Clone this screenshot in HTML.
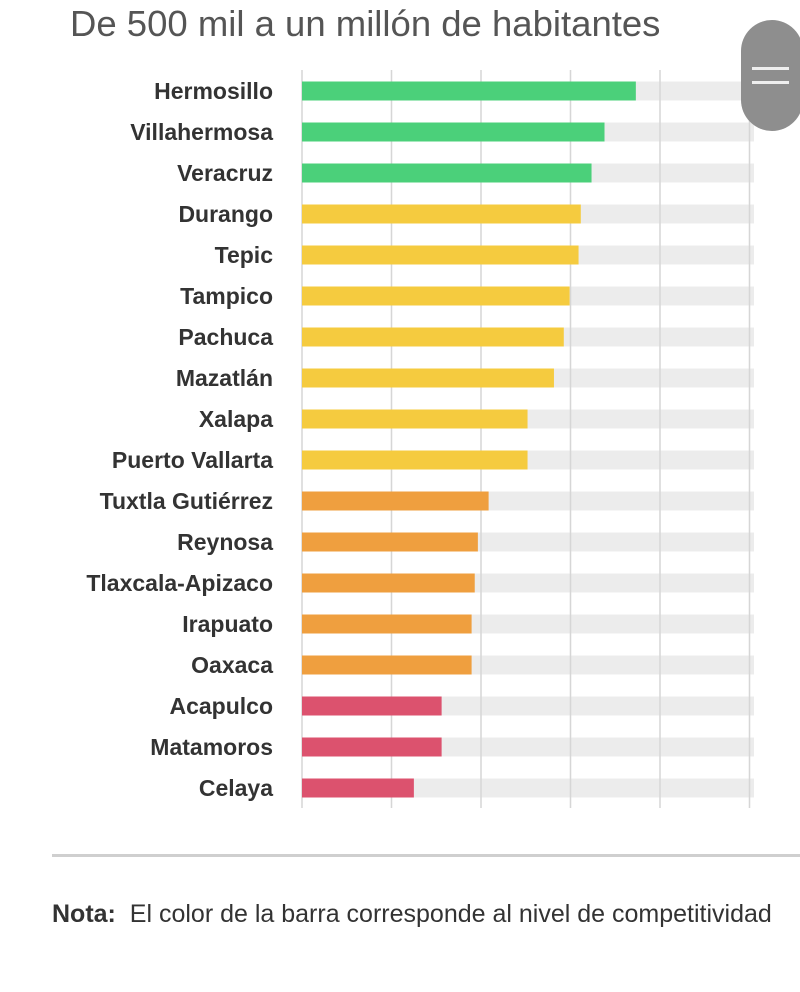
<!DOCTYPE html>
<html><head><meta charset="utf-8"><style>
body{margin:0;width:800px;height:992px;background:#fff;overflow:hidden;font-family:"Liberation Sans",sans-serif;position:relative}
#title{position:absolute;left:70px;top:3px;font-size:36.5px;color:#555;white-space:nowrap}
#note{position:absolute;left:52px;top:900px;font-size:25px;color:#333;white-space:nowrap}
#divider{position:absolute;left:52px;top:854px;width:748px;height:3px;background:#cfcfcf}
#menu{position:absolute;left:741px;top:20px;width:62px;height:111px;border-radius:31px;background:#8e8e8e}
#menu i{position:absolute;left:11px;width:37px;height:3px;background:#eee}
</style></head><body>
<div id="title">De 500 mil a un millón de habitantes</div>
<svg id="chart" width="800" height="850" style="position:absolute;left:0;top:0"></svg>
<div id="divider"></div>
<div id="note"><b>Nota:</b>&nbsp; El color de la barra corresponde al nivel de competitividad</div>
<div id="menu"><i style="top:47px"></i><i style="top:61px"></i></div>
<script>
const cities=["Hermosillo","Villahermosa","Veracruz","Durango","Tepic","Tampico","Pachuca","Mazatlán","Xalapa","Puerto Vallarta","Tuxtla Gutiérrez","Reynosa","Tlaxcala-Apizaco","Irapuato","Oaxaca","Acapulco","Matamoros","Celaya"];
const values=[74.6,67.6,64.7,62.3,61.8,59.8,58.5,56.3,50.4,50.4,41.7,39.3,38.6,37.9,37.9,31.2,31.2,25.0];
const levels=["alta","alta","alta","media-alta","media-alta","media-alta","media-alta","media-alta","media-alta","media-alta","media-baja","media-baja","media-baja","media-baja","media-baja","baja","baja","baja"];
const ticks=[0,20,40,60,80,100];
const colorOf={"alta":"#4bd07a","media-alta":"#f5cb3f","media-baja":"#ef9f3f","baja":"#dc526e"};
const NS="http://www.w3.org/2000/svg";
const svg=document.getElementById('chart');
const x=v=>302+v*4.475;
const yc=i=>91+i*41;
function mk(t,a){const e=document.createElementNS(NS,t);for(const k in a)e.setAttribute(k,a[k]);svg.appendChild(e);return e;}
cities.forEach((c,i)=>{
  const tr=mk('rect',{x:302,y:yc(i)-9.5,width:452,height:19,fill:'#ececec'});
  
  
});
ticks.forEach(t=>{
  const l=mk('line',{x1:x(t),x2:x(t),y1:70,y2:808,stroke:'#d6d6d6','stroke-width':1.5});
  
  
});
cities.forEach((c,i)=>{
  const b=mk('rect',{x:302,y:yc(i)-9.5,width:x(values[i])-302,height:19,fill:colorOf[levels[i]]});
  
  
  const t=mk('text',{x:273,y:yc(i)+8,'text-anchor':'end','font-size':23,'font-weight':'bold',fill:'#333','font-family':'Liberation Sans, sans-serif'});
  t.textContent=c;
  
  
});
</script>
</body></html>
